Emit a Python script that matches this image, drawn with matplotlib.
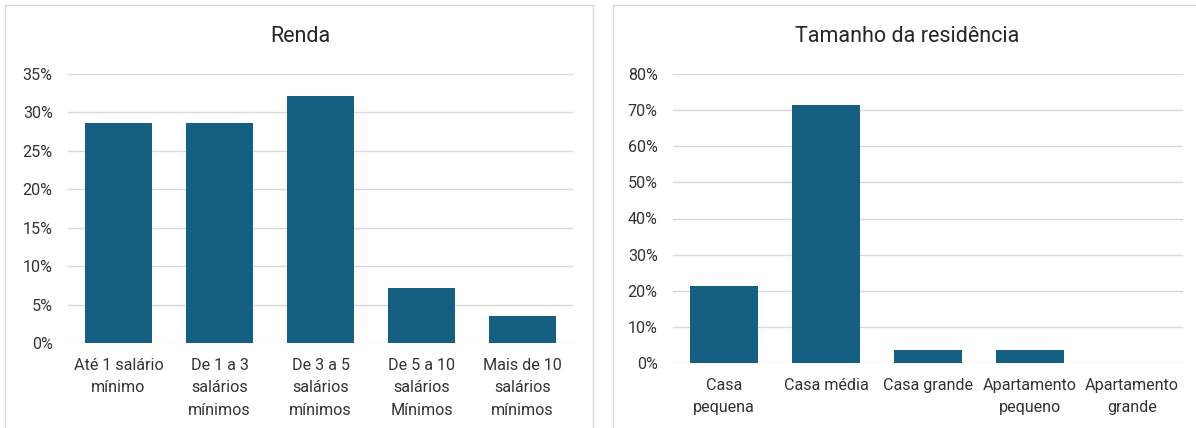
import matplotlib
matplotlib.use("Agg")
import matplotlib.pyplot as plt
from matplotlib.patches import Rectangle
from matplotlib.ticker import PercentFormatter

plt.rcParams['font.family'] = ['Roboto', 'DejaVu Sans']

# data
renda_labels = ["Até 1 salário\nmínimo", "De 1 a 3\nsalários\nmínimos", "De 3 a 5\nsalários\nmínimos",
                "De 5 a 10\nsalários\nMínimos", "Mais de 10\nsalários\nmínimos"]
renda_values = [0.2857, 0.2857, 0.3214, 0.0714, 0.0357]

casa_labels = ["Casa\npequena", "Casa média", "Casa grande", "Apartamento\npequeno", "Apartamento\ngrande"]
casa_values = [0.2143, 0.7143, 0.0357, 0.0357, 0.0]

bar_color = "#156082"
grid_color = "#D9D9D9"
text_color = "#333333"

W, H = 1196, 428
fig = plt.figure(figsize=(W / 100, H / 100), dpi=100)

# panel borders (bottom and right edge fall outside the image)
fig.add_artist(Rectangle((5 / W, -0.1), 588 / W, (H - 5) / H + 0.1, transform=fig.transFigure,
                         fill=False, edgecolor=grid_color, linewidth=1.0))
fig.add_artist(Rectangle((613 / W, -0.1), 1.0, (H - 5) / H + 0.1, transform=fig.transFigure,
                         fill=False, edgecolor=grid_color, linewidth=1.0))


def bar_panel(rect, labels, values, ymax, step, title, title_x):
    ax = fig.add_axes(rect)
    x = range(len(values))
    ax.bar(x, values, width=0.66, color=bar_color, zorder=3)
    ax.set_xlim(-0.5, len(values) - 0.5)
    ax.set_ylim(0, ymax)
    ticks = [i * step for i in range(int(round(ymax / step)) + 1)]
    ax.set_yticks(ticks)
    ax.yaxis.set_major_formatter(PercentFormatter(1.0, decimals=0))
    ax.set_xticks(list(x))
    ax.set_xticklabels(labels, linespacing=1.6)
    ax.grid(axis="y", color=grid_color, linewidth=1.0, zorder=0)
    for s in ax.spines.values():
        s.set_visible(False)
    ax.tick_params(length=0, labelsize=11.6, colors=text_color)
    ax.tick_params(axis="y", pad=11)
    ax.tick_params(axis="x", pad=11)
    fig.text(title_x / W, 1 - 37 / H, title, ha="center", va="center", fontsize=15.5, color="#262626")
    return ax


bar_panel([68 / W, 1 - 343 / H, 505 / W, 269 / H], renda_labels, renda_values, 0.35, 0.05, "Renda", 300)
bar_panel([673 / W, 1 - 363 / H, 510 / W, 289 / H], casa_labels, casa_values, 0.80, 0.10,
          "Tamanho da residência", 907)

fig.savefig("out.png", dpi=100)
